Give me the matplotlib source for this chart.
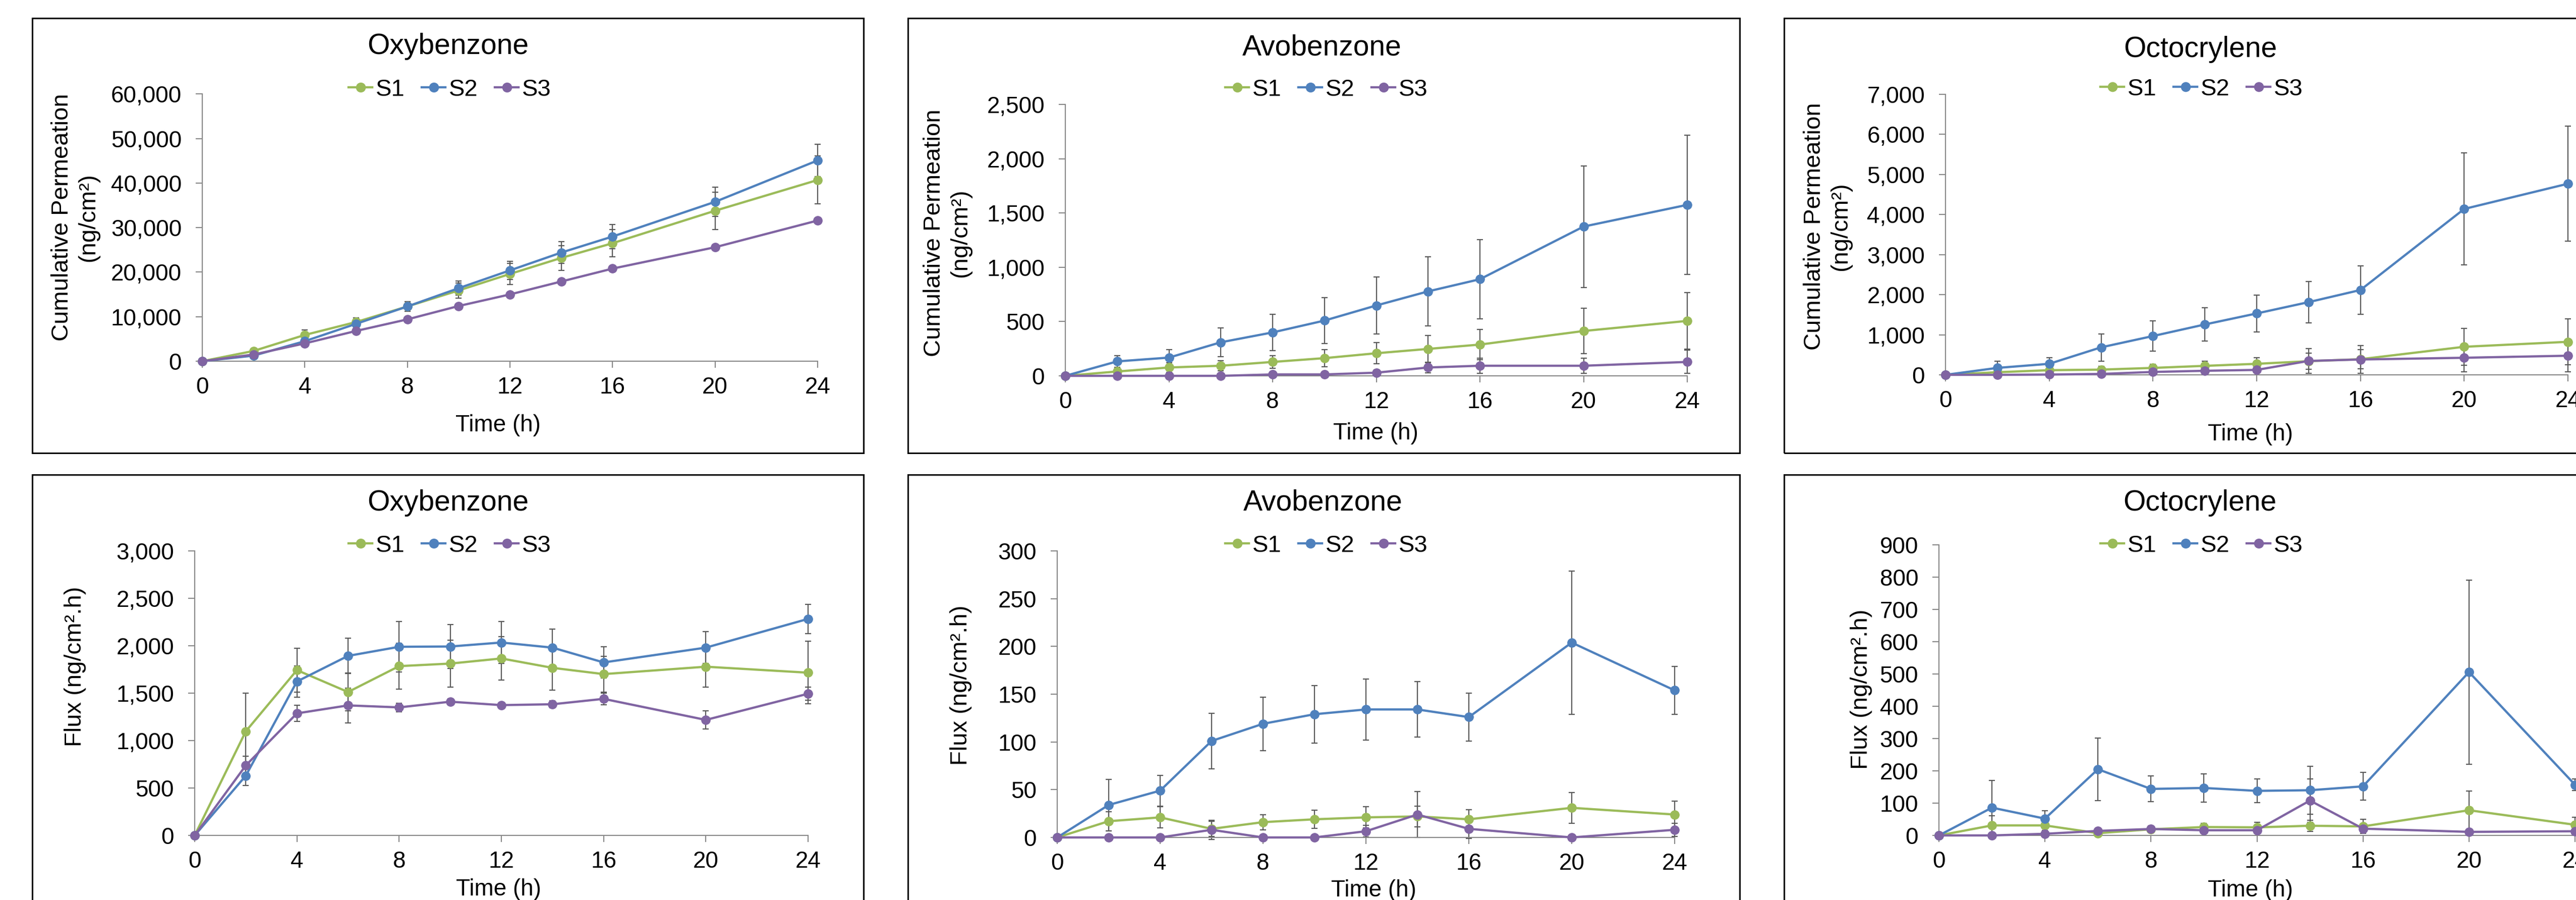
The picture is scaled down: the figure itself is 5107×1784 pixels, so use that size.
"""Cumulative permeation and flux of three UV filters (S1-S3)."""

import matplotlib
matplotlib.use('Agg')
import matplotlib.pyplot as plt
from matplotlib.patches import Rectangle
from matplotlib.ticker import FuncFormatter, MultipleLocator

plt.rcParams['font.family'] = ['Liberation Sans', 'DejaVu Sans']

time_h = [0, 2, 4, 6, 8, 10, 12, 14, 16, 20, 24]
series_names = ['S1', 'S2', 'S3']

# cumulative permeation (ng/cm2)
oxy_cum_s1 = [0, 2300, 5900, 8800, 12300, 15900, 19600, 23200, 26500, 33800, 40700]
oxy_cum_s1_err = [0, 400, 1100, 1000, 1100, 1700, 2400, 2800, 3100, 4200, 5400]
oxy_cum_s2 = [0, 1250, 4500, 8400, 12300, 16400, 20400, 24400, 28000, 35800, 45100]
oxy_cum_s2_err = [0, 300, 700, 900, 1100, 1600, 2000, 2400, 2700, 3300, 3600]
oxy_cum_s3 = [0, 1500, 4000, 6800, 9400, 12400, 15000, 17900, 20800, 25600, 31600]
oxy_cum_s3_err = [0, 200, 300, 300, 300, 300, 300, 300, 300, 300, 300]

avo_cum_s1 = [0, 40, 77, 93, 128, 163, 208, 248, 288, 413, 506]
avo_cum_s1_err = [0, 30, 45, 48, 58, 80, 98, 125, 141, 208, 262]
avo_cum_s2 = [0, 133, 168, 309, 400, 509, 648, 778, 890, 1375, 1575]
avo_cum_s2_err = [0, 53, 72, 131, 168, 213, 263, 320, 365, 560, 642]
avo_cum_s3 = [0, 0, 0, 0, 13, 13, 29, 77, 93, 93, 128]
avo_cum_s3_err = [0, 0, 0, 0, 20, 20, 25, 50, 70, 70, 107]

octo_cum_s1 = [0, 65, 116, 130, 173, 224, 275, 340, 390, 700, 824]
octo_cum_s1_err = [0, 40, 60, 80, 90, 115, 150, 200, 240, 463, 578]
octo_cum_s2 = [0, 173, 275, 686, 968, 1257, 1532, 1814, 2117, 4140, 4769]
octo_cum_s2_err = [0, 167, 150, 340, 376, 412, 462, 520, 607, 1400, 1438]
octo_cum_s3 = [0, 0, 7, 22, 72, 101, 123, 347, 383, 426, 477]
octo_cum_s3_err = [0, 0, 5, 10, 20, 30, 40, 310, 347, 346, 400]

# flux (ng/cm2.h)
oxy_flux_s1 = [0, 1098, 1743, 1512, 1785, 1812, 1866, 1767, 1701, 1779, 1716]
oxy_flux_s1_err = [0, 400, 230, 200, 243, 249, 228, 234, 189, 216, 330]
oxy_flux_s2 = [0, 630, 1623, 1893, 1989, 1992, 2034, 1980, 1824, 1980, 2283]
oxy_flux_s2_err = [0, 102, 165, 186, 267, 231, 222, 198, 165, 168, 153]
oxy_flux_s3 = [0, 738, 1287, 1371, 1350, 1410, 1374, 1383, 1440, 1218, 1494]
oxy_flux_s3_err = [0, 96, 87, 183, 45, 30, 25, 35, 60, 96, 70]

avo_flux_s1 = [0, 17, 21, 9, 16, 19, 21, 22, 19, 31, 24]
avo_flux_s1_err = [0, 10, 11, 8, 8, 9.5, 11, 11, 10, 16, 14]
avo_flux_s2 = [0, 34, 49, 101, 119, 129, 134, 134, 126, 204, 154]
avo_flux_s2_err = [0, 27, 16, 29, 28, 30, 32, 29, 25, 75, 25]
avo_flux_s3 = [0, 0, 0, 8, 0, 0, 6.5, 24, 9, 0, 8]
avo_flux_s3_err = [0, 0, 0, 10, 0, 0, 6, 24, 10, 0, 7]

octo_flux_s1 = [0, 31, 31, 7, 19, 26, 25, 30, 28, 78, 33]
octo_flux_s1_err = [0, 30, 15, 8, 10, 12, 15, 17, 22, 60, 24]
octo_flux_s2 = [0, 86, 52, 205, 144, 147, 138, 140, 152, 506, 157]
octo_flux_s2_err = [0, 85, 24, 97, 40, 44, 37, 74, 43, 285, 18]
octo_flux_s3 = [0, 0, 5, 14, 20, 16, 16, 108, 21, 11, 13]
octo_flux_s3_err = [0, 0, 3, 5, 5, 5, 5, 67, 10, 5, 5]

colors = ['#9BBB59', '#4F81BD', '#8064A2']
err_color = '#595959'
axis_color = '#868686'

W, H = 5107, 1784

cum_label = 'Cumulative Permeation\n(ng/cm\u00b2)'
flux_label = 'Flux (ng/cm\u00b2.h)'

# one entry per panel: title, ylabel, ymax, ystep, series, errors, layout in pixels
panels = [
    dict(title='Oxybenzone', ylabel=cum_label, ymax=60000, step=10000,
         ys=[oxy_cum_s1, oxy_cum_s2, oxy_cum_s3],
         errs=[oxy_cum_s1_err, oxy_cum_s2_err, oxy_cum_s3_err],
         box=(64, 36, 1712, 898), ax=(401, 186.5, 1621, 716),
         title_xy=(888, 92), leg_xy=(892, 178), ylab_xy=(149, 431), xlab_xy=(987, 843)),
    dict(title='Avobenzone', ylabel=cum_label, ymax=2500, step=500,
         ys=[avo_cum_s1, avo_cum_s2, avo_cum_s3],
         errs=[avo_cum_s1_err, avo_cum_s2_err, avo_cum_s3_err],
         box=(1800, 36, 3449, 898), ax=(2112, 207, 3345, 745),
         title_xy=(2621, 94), leg_xy=(2630, 178), ylab_xy=(1878, 462), xlab_xy=(2727, 859)),
    dict(title='Octocrylene', ylabel=cum_label, ymax=7000, step=1000,
         ys=[octo_cum_s1, octo_cum_s2, octo_cum_s3],
         errs=[octo_cum_s1_err, octo_cum_s2_err, octo_cum_s3_err],
         box=(3537, 36, 5186, 898), ax=(3857, 187, 5091, 743),
         title_xy=(4362, 98), leg_xy=(4365, 177), ylab_xy=(3623, 449), xlab_xy=(4461, 861)),
    dict(title='Oxybenzone', ylabel=flux_label, ymax=3000, step=500,
         ys=[oxy_flux_s1, oxy_flux_s2, oxy_flux_s3],
         errs=[oxy_flux_s1_err, oxy_flux_s2_err, oxy_flux_s3_err],
         box=(64, 941, 1712, 1803), ax=(386, 1092, 1602, 1656),
         title_xy=(888, 997), leg_xy=(892, 1082), ylab_xy=(149, 1321), xlab_xy=(988, 1763)),
    dict(title='Avobenzone', ylabel=flux_label, ymax=300, step=50,
         ys=[avo_flux_s1, avo_flux_s2, avo_flux_s3],
         errs=[avo_flux_s1_err, avo_flux_s2_err, avo_flux_s3_err],
         box=(1800, 941, 3449, 1803), ax=(2096, 1092, 3320, 1660),
         title_xy=(2623, 997), leg_xy=(2630, 1082), ylab_xy=(1905, 1358), xlab_xy=(2723, 1765)),
    dict(title='Octocrylene', ylabel=flux_label, ymax=900, step=100,
         ys=[octo_flux_s1, octo_flux_s2, octo_flux_s3],
         errs=[octo_flux_s1_err, octo_flux_s2_err, octo_flux_s3_err],
         box=(3537, 941, 5186, 1803), ax=(3844, 1080, 5105, 1656),
         title_xy=(4361, 997), leg_xy=(4365, 1082), ylab_xy=(3690, 1366), xlab_xy=(4461, 1765)),
]


def fx(x):
    return x / W


def fy(y):
    return 1 - y / H


def main():
    fig = plt.figure(figsize=(W / 100, H / 100), dpi=100)
    fig.patch.set_facecolor('white')

    for p in panels:
        x0, y0, x1, y1 = p['box']
        fig.patches.append(Rectangle((fx(x0), fy(y1)), fx(x1 - x0), (y1 - y0) / H,
                                     transform=fig.transFigure, fill=False,
                                     edgecolor='black', linewidth=2.2, zorder=0))

        a0, b0, a1, b1 = p['ax']
        ax = fig.add_axes([fx(a0), fy(b1), fx(a1 - a0), (b1 - b0) / H])
        ax.patch.set_alpha(0)

        handles = []
        for ys, es, c, name in zip(p['ys'], p['errs'], colors, series_names):
            ax.errorbar(time_h, ys, yerr=es, fmt='none', ecolor=err_color,
                        elinewidth=1.6, capsize=4.5, capthick=1.6, zorder=2, clip_on=False)
            line, = ax.plot(time_h, ys, color=c, linewidth=3.2, marker='o',
                            markersize=12.5, label=name, zorder=3, clip_on=False)
            handles.append(line)

        ax.set_xlim(0, 24)
        ax.set_ylim(0, p['ymax'])
        ax.xaxis.set_major_locator(MultipleLocator(4))
        ax.yaxis.set_major_locator(MultipleLocator(p['step']))
        ax.yaxis.set_major_formatter(FuncFormatter(lambda v, _: f'{v:,.0f}'))

        for side in ['top', 'right']:
            ax.spines[side].set_visible(False)
        for side in ['left', 'bottom']:
            ax.spines[side].set_color(axis_color)
            ax.spines[side].set_linewidth(1.5)
        ax.tick_params(axis='both', direction='out', length=9.5, width=1.5,
                       color=axis_color, labelsize=33, labelcolor='black')
        ax.tick_params(axis='x', pad=12)
        ax.tick_params(axis='y', pad=20)

        tx, ty = p['title_xy']
        fig.text(fx(tx), fy(ty), p['title'], ha='center', va='center', fontsize=41)
        lx, ly = p['ylab_xy']
        fig.text(fx(lx), fy(ly), p['ylabel'], ha='center', va='center', rotation=90,
                 fontsize=34, multialignment='center', linespacing=1.25)
        xx, xy = p['xlab_xy']
        fig.text(fx(xx), fy(xy), 'Time (h)', ha='center', va='center', fontsize=33)

        gx, gy = p['leg_xy']
        ax.legend(handles=handles, loc='center', bbox_to_anchor=(fx(gx), fy(gy)),
                  bbox_transform=fig.transFigure, ncol=3, frameon=False, fontsize=34,
                  handlelength=1.0, handletextpad=0.15, columnspacing=0.7,
                  markerscale=1.05, borderpad=0, borderaxespad=0)

    fig.savefig('out.png', dpi=100, facecolor='white')


if __name__ == '__main__':
    main()
